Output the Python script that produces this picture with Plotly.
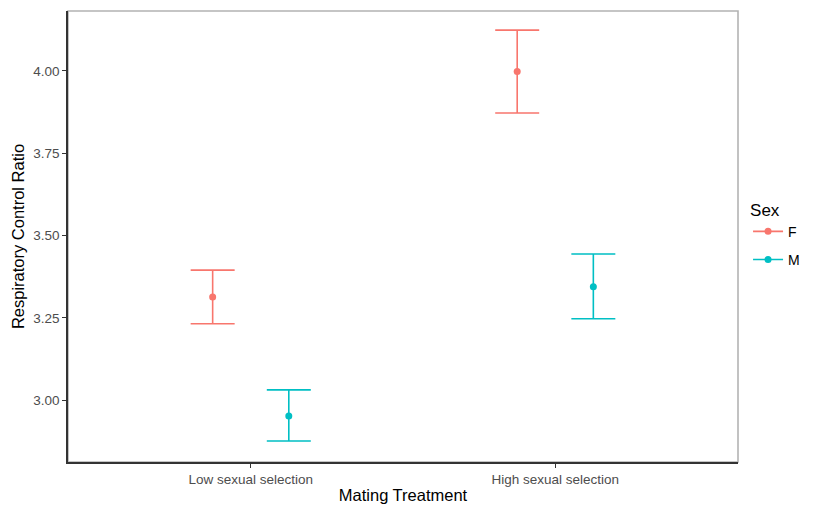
import plotly.graph_objects as go

categories = ["Low sexual selection", "High sexual selection"]
sexes = ["F", "M"]
means_F = [3.313, 3.998]
upper_F = [3.395, 4.124]
lower_F = [3.232, 3.872]
means_M = [2.952, 3.344]
upper_M = [3.031, 3.444]
lower_M = [2.876, 3.247]

colors = {"F": "#F8766D", "M": "#00BFC4"}
dodge = {"F": -0.125, "M": 0.125}
series = {"F": (means_F, upper_F, lower_F), "M": (means_M, upper_M, lower_M)}

fig = go.Figure()
for s in sexes:
    m, up, lo = series[s]
    xs = [i + 1 + dodge[s] for i in range(len(categories))]
    fig.add_trace(go.Scatter(
        x=xs, y=m, mode="markers", showlegend=False,
        marker=dict(color=colors[s], size=7),
        error_y=dict(type="data", symmetric=False,
                     array=[u - v for u, v in zip(up, m)],
                     arrayminus=[v - l for v, l in zip(m, lo)],
                     color=colors[s], thickness=1.6, width=22),
    ))
    fig.add_trace(go.Scatter(
        x=[None], y=[None], mode="lines+markers", name=s, legendgroup=s,
        line=dict(color=colors[s], width=1.6),
        marker=dict(color=colors[s], size=7),
    ))

font = "Liberation Sans, Arial, sans-serif"
fig.update_layout(
    width=816, height=506,
    margin=dict(l=68, r=76, t=11, b=44),
    paper_bgcolor="white", plot_bgcolor="white",
    font=dict(family=font, color="#000000"),
    xaxis=dict(range=[0.4, 2.6], tickvals=[1, 2], ticktext=categories,
               automargin=False,
               showgrid=False, zeroline=False,
               showline=True, linecolor="#333333", linewidth=1.6,
               ticks="outside", ticklen=4, tickcolor="#333333", tickwidth=1.2,
               tickfont=dict(size=13.5, color="#4D4D4D", family=font),
               title=dict(text="Mating Treatment", font=dict(size=16.5, family=font), standoff=3)),
    yaxis=dict(range=[2.812, 4.182], tickvals=[3.0, 3.25, 3.5, 3.75, 4.0],
               ticktext=["3.00", "3.25", "3.50", "3.75", "4.00"],
               automargin=False,
               showgrid=False, zeroline=False,
               showline=True, linecolor="#333333", linewidth=1.6,
               ticks="outside", ticklen=4, tickcolor="#333333", tickwidth=1.2,
               tickfont=dict(size=13.5, color="#4D4D4D", family=font),
               title=dict(text="Respiratory Control Ratio", font=dict(size=16.5, family=font), standoff=4)),
    legend=dict(title=dict(text="Sex", font=dict(size=17, family=font)),
                x=1.015, xanchor="left", y=0.595, yanchor="top",
                font=dict(size=14, family=font), tracegroupgap=7,
                bgcolor="rgba(0,0,0,0)"),
    shapes=[dict(type="rect", xref="paper", yref="paper", x0=0, x1=1, y0=0, y1=1,
                 line=dict(color="#B3B3B3", width=1.6), layer="below")],
)

fig.write_html("out.html")
